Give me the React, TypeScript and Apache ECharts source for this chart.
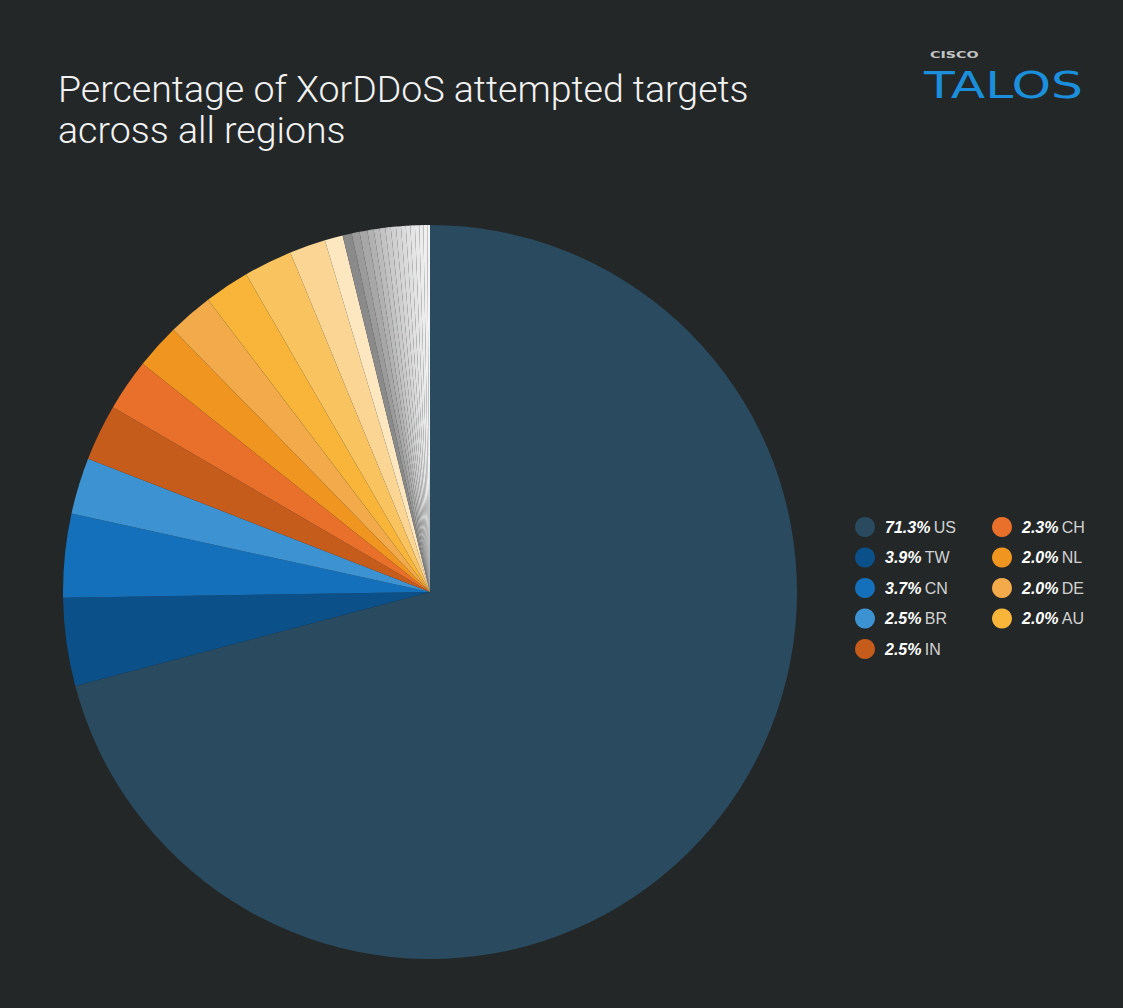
import React, { useEffect, useRef } from "react";
import * as echarts from "echarts";

const titleLines = ["Percentage of XorDDoS attempted targets", "across all regions"];

const legendNames = ["US", "TW", "CN", "BR", "IN", "CH", "NL", "DE", "AU"];
const legendValues = [71.3, 3.9, 3.7, 2.5, 2.5, 2.3, 2.0, 2.0, 2.0];
const legendColors = [
  "#2a4b5f", "#0b5088", "#1470bb", "#3d93d2", "#c65c1c",
  "#e8702a", "#f0951f", "#f2aa4b", "#f8b53a",
];

const otherNames = [
  "Other 1", "Other 2", "Other 3", "Other 4", "Other 5", "Other 6", "Other 7",
  "Other 8", "Other 9", "Other 10", "Other 11", "Other 12", "Other 13",
  "Other 14", "Other 15", "Other 16", "Other 17", "Other 18", "Other 19",
];
const otherValues = [
  2.15, 1.6, 0.8,
  0.4, 0.35, 0.35, 0.28, 0.26, 0.25, 0.24, 0.23, 0.22, 0.21, 0.2, 0.2, 0.19, 0.18, 0.17, 0.12,
];
const otherColors = [
  "#f9c35f", "#fbd594", "#fce7c0",
  "#8a8a8a", "#9b9b9b", "#a7a7a7", "#b1b1b1", "#bbbbbb", "#c3c3c3", "#cacaca",
  "#d0d0d0", "#d6d6d6", "#dbdbdb", "#e0e0e0", "#e4e4e4", "#e8e8e8", "#ececec",
  "#efefef", "#f3f3f3",
];

export default function App() {
  const ref = useRef<HTMLDivElement>(null);

  useEffect(() => {
    if (!ref.current) return;
    const chart = echarts.init(ref.current, undefined, { renderer: "svg" });

    const data = [
      ...legendNames.map((n, i) => ({
        name: n,
        value: legendValues[i],
        itemStyle: { color: legendColors[i] },
      })),
      ...otherNames.map((n, i) => ({
        name: n,
        value: otherValues[i],
        itemStyle: { color: otherColors[i] },
      })),
    ];

    const fmt = (name: string) => {
      const i = legendNames.indexOf(name);
      return `{p|${legendValues[i].toFixed(1)}%} {n|${name}}`;
    };

    const legendText = {
      rich: {
        p: {
          fontSize: 16,
          fontWeight: "bold",
          fontStyle: "italic",
          color: "#ffffff",
          fontFamily: "Liberation Sans",
          lineHeight: 20,
          padding: [0, 0, 0, 5],
        },
        n: {
          fontSize: 16,
          color: "#d2d2d2",
          fontFamily: "Liberation Sans",
          lineHeight: 20,
        },
      },
    };

    const legendBase = {
      orient: "vertical",
      top: 517,
      icon: "circle",
      itemWidth: 20,
      itemHeight: 20,
      itemGap: 10.5,
      padding: 0,
      selectedMode: false,
      formatter: fmt,
      textStyle: legendText,
    };

    chart.setOption({
      animation: false,
      backgroundColor: "#232728",
      title: {
        text: titleLines.join("\n"),
        left: 58,
        top: 68,
        padding: 0,
        textStyle: {
          color: "#f2f2f2",
          fontSize: 37.5,
          fontWeight: 300,
          fontFamily: "Roboto",
          lineHeight: 41,
        },
      },
      legend: [
        { ...legendBase, left: 855, data: legendNames.slice(0, 5) },
        { ...legendBase, left: 992, data: legendNames.slice(5) },
      ],
      graphic: [
        {
          type: "text",
          x: 930,
          y: 50,
          scaleX: 1.5,
          style: {
            text: "CISCO",
            fontSize: 9.5,
            fontWeight: "bold",
            fontFamily: "DejaVu Sans",
            fill: "#c4c4c4",
            verticalAlign: "top",
          },
        },
        {
          type: "text",
          x: 924,
          y: 67,
          scaleX: 1.36,
          style: {
            text: "TALOS",
            fontSize: 37,
            fontFamily: "DejaVu Sans",
            fill: "#1b8fdc",
            verticalAlign: "top",
          },
        },
      ],
      series: [
        {
          type: "pie",
          center: [430, 592],
          radius: 367,
          startAngle: 90,
          clockwise: true,
          label: { show: false },
          labelLine: { show: false },
          emphasis: { disabled: true },
          silent: true,
          itemStyle: { borderWidth: 0 },
          data,
        },
      ],
    });

    return () => chart.dispose();
  }, []);

  return (
    <div
      ref={ref}
      style={{ position: "absolute", left: 0, top: 0, width: 1123, height: 1008 }}
    />
  );
}
